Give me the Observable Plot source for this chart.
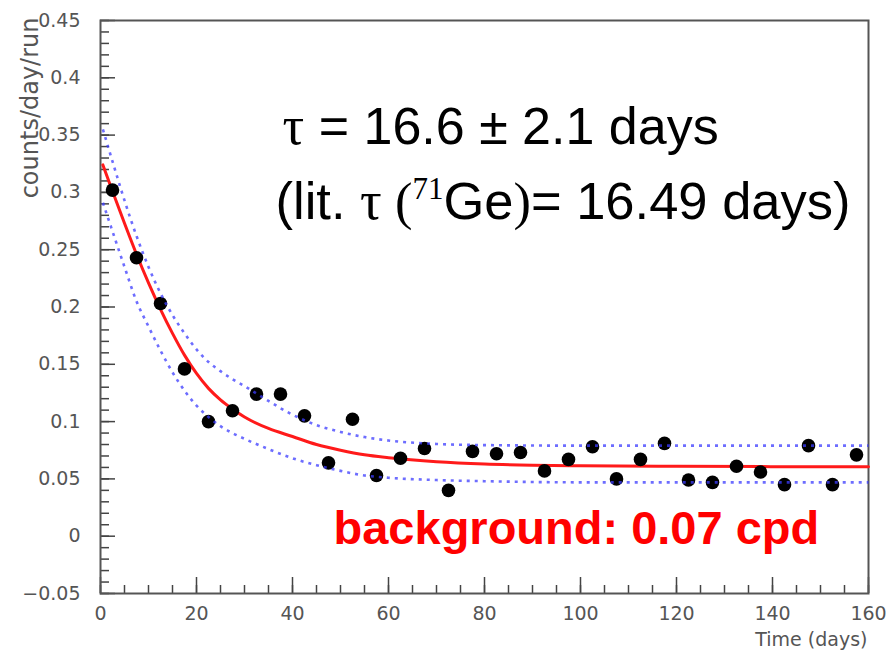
<!DOCTYPE html>
<html>
<head>
<meta charset="utf-8">
<script src="https://cdn.jsdelivr.net/npm/d3@7"></script>
<script src="https://cdn.jsdelivr.net/npm/@observablehq/plot@0.6"></script>
<style>
  html, body { margin: 0; padding: 0; background: #ffffff; }
  svg { display: block; }
</style>
</head>
<body>
<div id="chart"></div>
<script>
// ---- data ----
const runTimes = [2.5, 7.5, 12.5, 17.5, 22.5, 27.5, 32.5, 37.5, 42.5, 47.5, 52.5, 57.5, 62.5, 67.5, 72.5, 77.5,
                  82.5, 87.5, 92.5, 97.5, 102.5, 107.5, 112.5, 117.5, 122.5, 127.5, 132.5, 137.5, 142.5, 147.5, 152.5, 157.5];
const runCounts = [0.302, 0.243, 0.203, 0.146, 0.100, 0.1095, 0.124, 0.124, 0.105, 0.064, 0.102, 0.053, 0.068, 0.0765, 0.040, 0.074,
                   0.072, 0.073, 0.057, 0.067, 0.078, 0.050, 0.067, 0.081, 0.049, 0.047, 0.061, 0.056, 0.045, 0.079, 0.045, 0.071];

// fitted decay curve (red)
const fitTimes  = [0.5, 2.5, 5, 7.5, 10, 12.5, 15, 17.5, 20, 22.5, 25, 27.5, 30, 35, 40, 45, 50, 55, 60, 70, 80, 90, 100, 120, 140, 160];
const fitValues = [0.324, 0.301, 0.273, 0.246, 0.221, 0.198, 0.177, 0.158, 0.142, 0.129, 0.119, 0.111, 0.104, 0.094, 0.087, 0.080,
                   0.075, 0.071, 0.0685, 0.065, 0.063, 0.062, 0.0615, 0.061, 0.0607, 0.0605];

// upper / lower confidence bands (blue dashed)
const upperTimes  = [0.5, 2.5, 5, 7.5, 10, 12.5, 15, 17.5, 20, 22.5, 25, 27.5, 30, 35, 40, 45, 50, 55, 60, 70, 80, 100, 120, 140, 160];
const upperValues = [0.355, 0.327, 0.293, 0.262, 0.235, 0.212, 0.193, 0.177, 0.163, 0.152, 0.144, 0.137, 0.131, 0.118, 0.106,
                     0.097, 0.091, 0.0865, 0.0835, 0.0805, 0.0795, 0.079, 0.079, 0.079, 0.079];
const lowerTimes  = [0.5, 2.5, 5, 7.5, 10, 12.5, 15, 17.5, 20, 22.5, 25, 27.5, 30, 35, 40, 45, 50, 55, 60, 70, 80, 100, 120, 140, 160];
const lowerValues = [0.291, 0.266, 0.235, 0.205, 0.183, 0.162, 0.143, 0.127, 0.114, 0.104, 0.096, 0.090, 0.085, 0.076, 0.068,
                     0.062, 0.057, 0.053, 0.051, 0.049, 0.048, 0.047, 0.047, 0.047, 0.047];

// ticks and labels
const xTicks = [0, 20, 40, 60, 80, 100, 120, 140, 160];
const yTicks = [-0.05, 0, 0.05, 0.1, 0.15, 0.2, 0.25, 0.3, 0.35, 0.4, 0.45];
const yTickLabels = ["−0.05", "0", "0.05", "0.1", "0.15", "0.2", "0.25", "0.3", "0.35", "0.4", "0.45"];
const xMinorTicks = d3.range(0, 161, 5);
const yMinorTicks = d3.range(-5, 46, 1).map(d => d / 100);
const xTitle = "Time (days)";
const yTitle = "counts/day/run";

// annotation text pieces
const line1Parts = ["τ", " = 16.6 ", "±", " 2.1 days"];
const line2Parts = ["(lit. ", "τ", " (", "71", "Ge", ")", "= 16.49 days)"];
const bgText = "background: 0.07 cpd";

// ---- build tables ----
const runs  = runTimes.map((t, i) => ({t, c: runCounts[i]}));
const fit   = fitTimes.map((t, i) => ({t, c: fitValues[i]}));
const upper = upperTimes.map((t, i) => ({t, c: upperValues[i]}));
const lower = lowerTimes.map((t, i) => ({t, c: lowerValues[i]}));

const sans = "'Liberation Sans', Arial, Helvetica, sans-serif";
const serif = "'Liberation Serif', 'Times New Roman', serif";
const axisFont = "'DejaVu Sans', sans-serif";
const line1 = line1Parts.join("");
const line2 = line2Parts.join("");
const bandStyle = {stroke: "#3c3cff", strokeOpacity: 0.75, strokeWidth: 2.6, strokeDasharray: "3,5",
                   strokeLinecap: "butt", curve: "monotone-x"};

const chart = Plot.plot({
  width: 890,
  height: 653,
  marginLeft: 100,
  marginRight: 22,
  marginTop: 20,
  marginBottom: 60,
  style: {background: "#ffffff", fontFamily: axisFont},
  x: {domain: [0, 160], label: null},
  y: {domain: [-0.05, 0.45], label: null},
  marks: [
    // minor & major ticks, pointing inward
    Plot.axisX(xMinorTicks, {tickSize: -8, text: null, stroke: "#444", strokeWidth: 1.5}),
    Plot.axisX(xTicks, {tickSize: -16, text: null, stroke: "#444", strokeWidth: 1.5}),
    Plot.axisY(yMinorTicks, {tickSize: -9, text: null, stroke: "#444", strokeWidth: 1.5}),
    Plot.axisY(yTicks, {tickSize: -15, text: null, stroke: "#444", strokeWidth: 1.5}),
    // tick labels
    Plot.axisX(xTicks, {tickSize: 0, tickPadding: 13, fontSize: 19, fill: "#555", tickFormat: d => String(d)}),
    Plot.axisY(yTicks, {tickSize: 0, tickPadding: 20, fontSize: 19, fill: "#555",
                        tickFormat: d => yTickLabels[yTicks.indexOf(d)]}),
    Plot.frame({stroke: "#555", strokeWidth: 2}),
    // fit curve
    Plot.line(fit, {x: "t", y: "c", stroke: "#ff1a1a", strokeWidth: 3, curve: "monotone-x"}),
    // data points
    Plot.dot(runs, {x: "t", y: "c", r: 6.8, fill: "#000000", stroke: null}),
    // confidence bands
    Plot.line(upper, {x: "t", y: "c", ...bandStyle}),
    Plot.line(lower, {x: "t", y: "c", ...bandStyle}),
    // axis titles
    Plot.text([xTitle], {frameAnchor: "bottom-right", dx: -1, dy: 52, textAnchor: "end", lineAnchor: "bottom",
                         fontSize: 19, fill: "#555", fontFamily: axisFont}),
    Plot.text([yTitle], {frameAnchor: "top-left", dx: -70, dy: -3, rotate: -90, textAnchor: "end", lineAnchor: "middle",
                         fontSize: 24, fill: "#555", fontFamily: axisFont}),
    // annotations
    Plot.text([line1], {frameAnchor: "top-left", dx: 182, dy: 123, textAnchor: "start", lineAnchor: "bottom",
                        fontSize: 52, fill: "#000", fontFamily: sans}),
    Plot.text([line2], {frameAnchor: "top-left", dx: 175, dy: 198, textAnchor: "start", lineAnchor: "bottom",
                        fontSize: 52.5, fill: "#000", fontFamily: sans}),
    Plot.text([bgText], {frameAnchor: "top-left", dx: 233, dy: 523, textAnchor: "start", lineAnchor: "bottom",
                         fontSize: 47, fontWeight: "bold", fill: "#ff0000", fontFamily: sans})
  ]
});

document.getElementById("chart").appendChild(chart);

// rich text: serif tau / parentheses and superscript mass number
function richText(full, parts, styleFor) {
  const sel = d3.select(chart).selectAll("text").filter(function() { return this.textContent === full; });
  sel.text(null);
  let shift = 0;
  parts.forEach((p, i) => {
    const st = styleFor(p, i);
    const ts = sel.append("tspan").text(p);
    if (st.family) ts.attr("font-family", st.family);
    if (st.size) ts.attr("font-size", st.size);
    const want = st.rise || 0;
    if (want !== shift) { ts.attr("dy", shift - want); shift = want; }
  });
}
richText(line1, line1Parts, (p, i) => i === 0 ? {family: serif, size: 54} : {});
richText(line2, line2Parts, (p, i) => {
  if (i === 1) return {family: serif, size: 54};
  if (i === 2 || i === 5) return {family: serif};
  if (i === 3) return {family: serif, size: 31, rise: 20};
  return {};
});
</script>
</body>
</html>
